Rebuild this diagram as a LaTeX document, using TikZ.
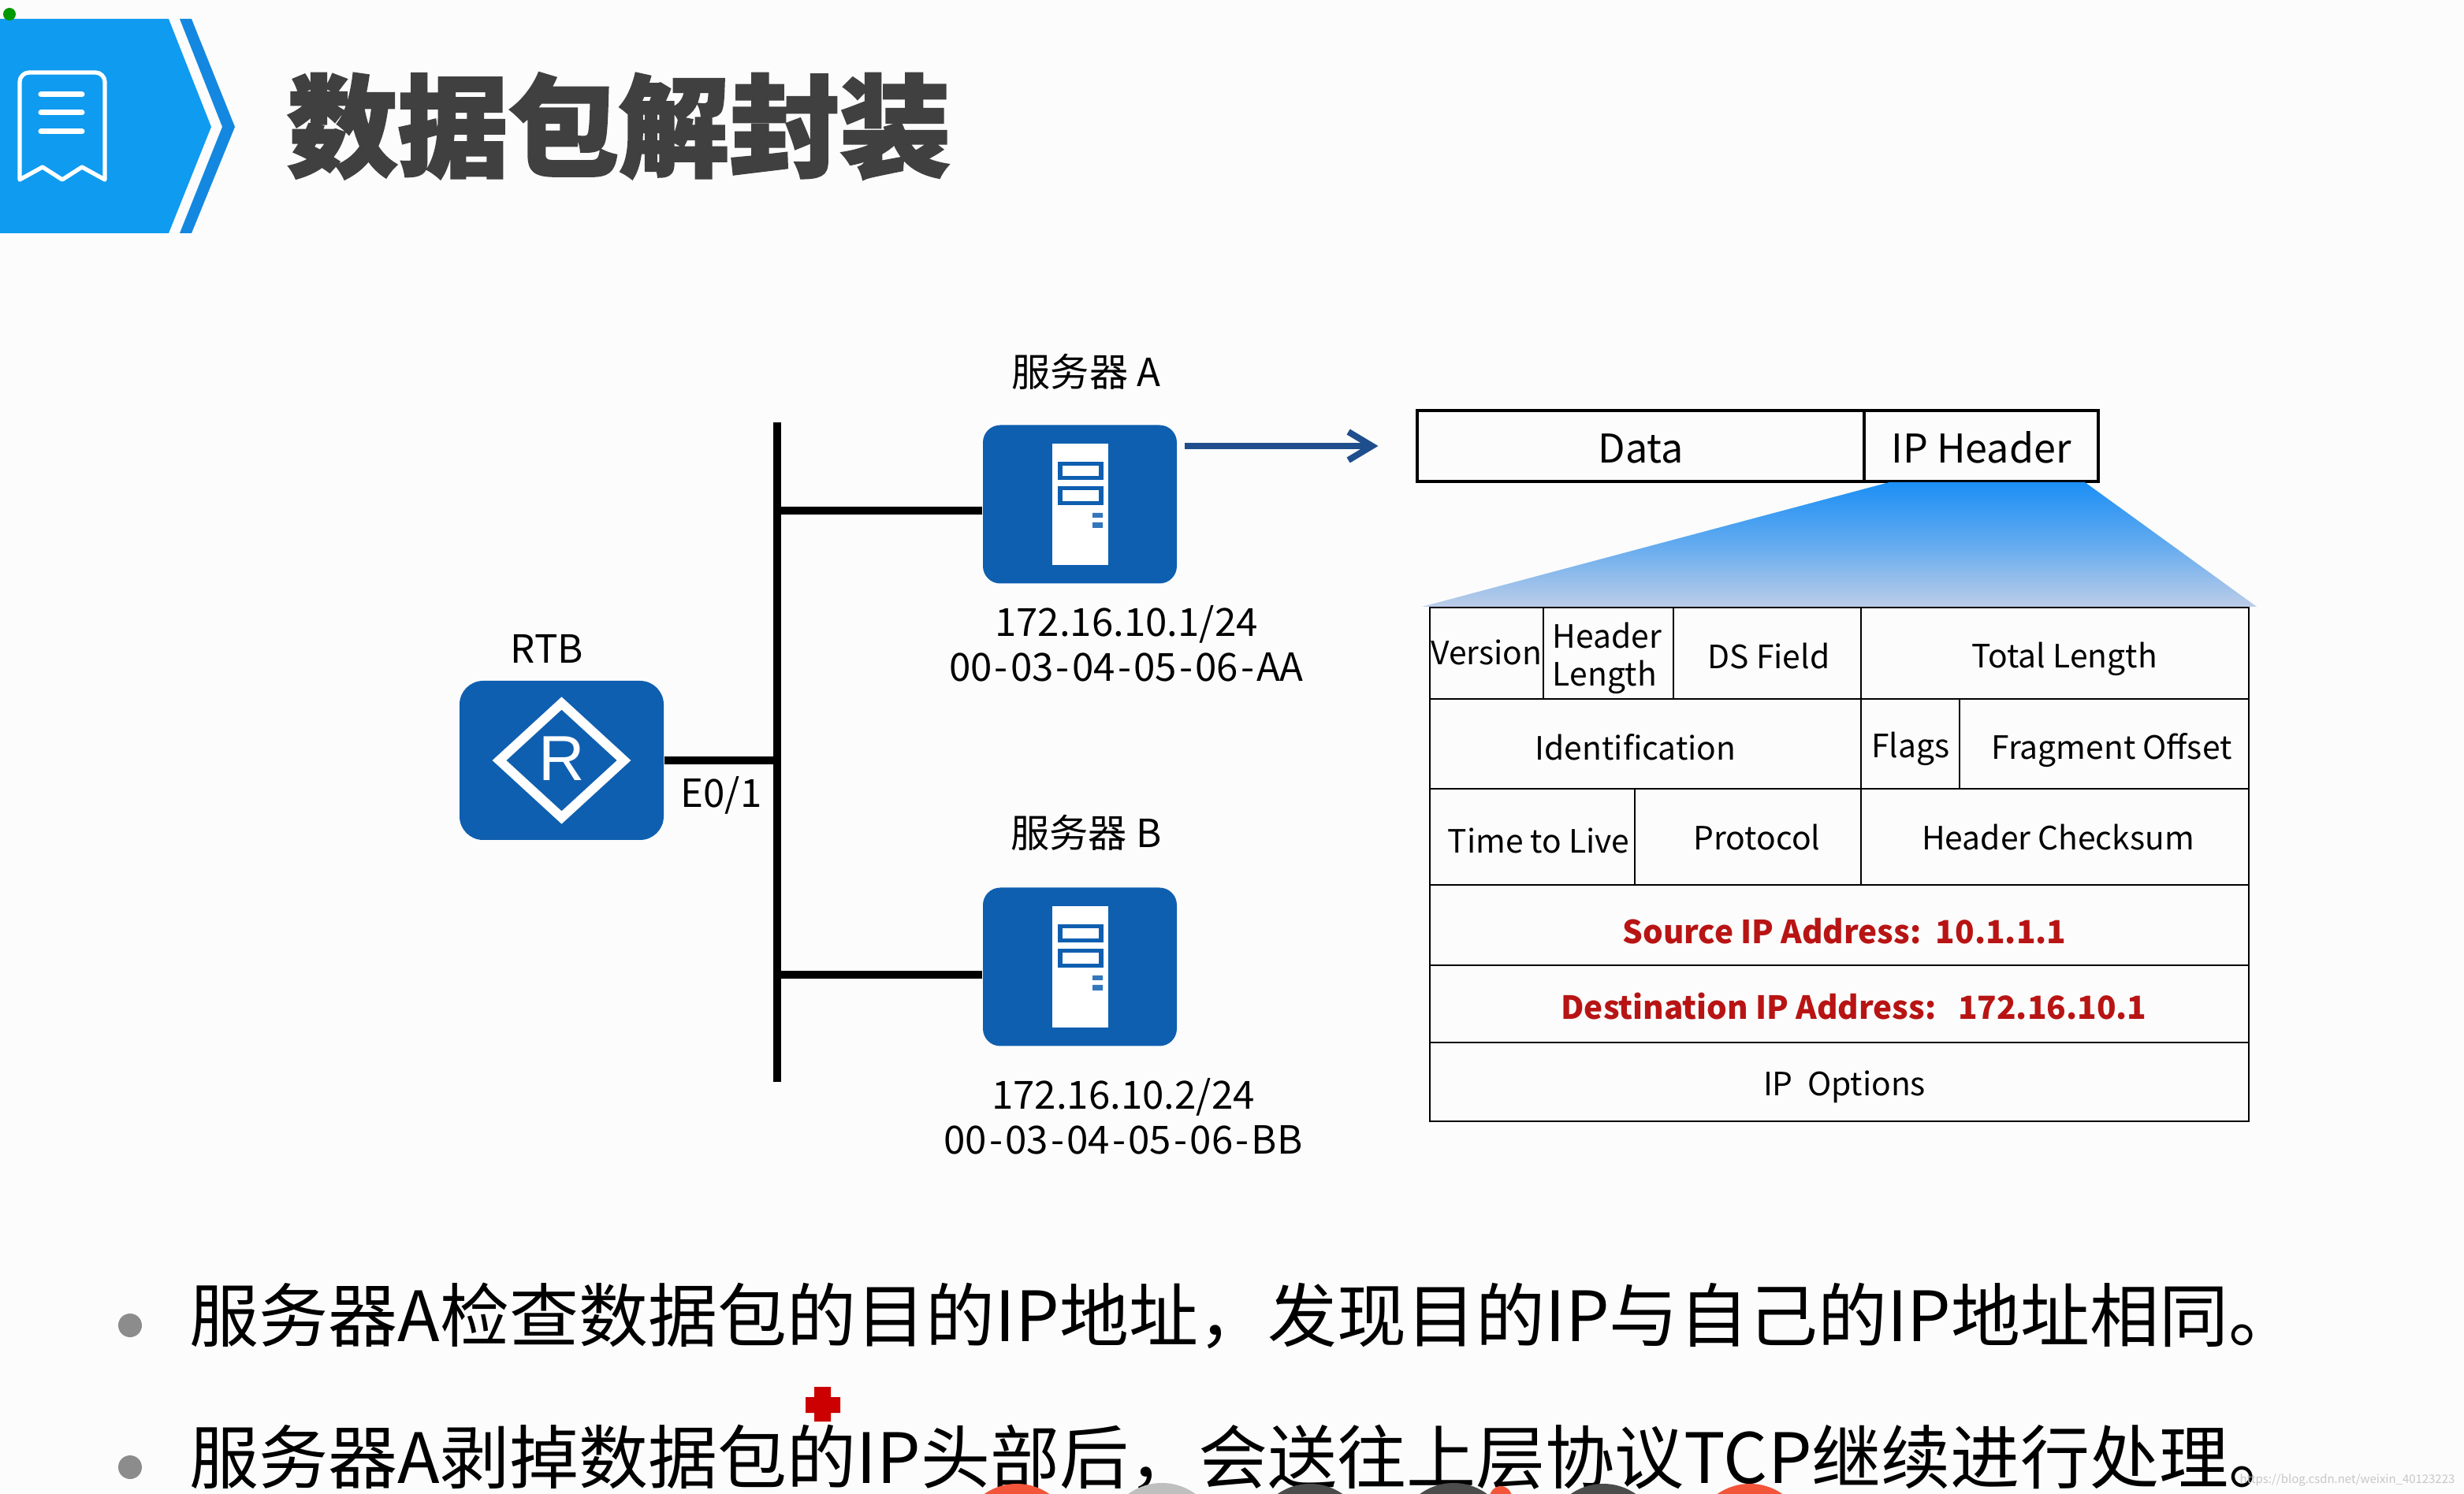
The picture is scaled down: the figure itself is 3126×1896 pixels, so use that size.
\documentclass[tikz,border=0pt]{standalone}
\usepackage{fontspec}
\setmainfont{Noto Sans CJK SC}
\newfontfamily\titlefont[BoldFeatures={FakeBold=2}]{Noto Sans CJK SC}
\newfontfamily\rfont{Liberation Sans}
\usepackage{xcolor}
\usetikzlibrary{%
  arrows.meta,
  positioning,
  calc
}
\definecolor{bannerblue}{HTML}{0F9BF0}
\definecolor{stripblue}{HTML}{1488E0}
\definecolor{devblue}{HTML}{0F5FB0}
\definecolor{arrowblue}{HTML}{1F4E8C}
\definecolor{wedgetop}{HTML}{1B8FF5}
\definecolor{wedgebot}{HTML}{BCCDE8}
\definecolor{addrred}{HTML}{B81414}
\definecolor{titlegray}{HTML}{404040}
\definecolor{avatarred}{HTML}{F2553A}
\newcommand{\hy}{\kern0.9pt-\kern0.9pt}
\tikzset{
  wire/.style={line width=2.8pt},
  devbox/.style={fill=devblue,inner sep=0pt,rounded corners=2.2mm},
  lab/.style={inner sep=0pt,font=\fontsize{14}{16.2}\selectfont,align=center},
  cell/.style={inner sep=0pt,font=\fontsize{11.6}{13.6}\selectfont,align=left},
  pkt/.style={draw,line width=1.4pt,inner sep=0pt,minimum height=9cm/10,text height=12.5pt,text depth=0pt,font=\fontsize{14.3}{17}\selectfont},
  redcell/.style={inner sep=0pt,text=addrred,font=\fontsize{11.5}{14}\selectfont\bfseries},
  bullet/.style={inner sep=0pt,anchor=west,font=\fontsize{25.05}{30}\selectfont}
}
\begin{document}
\begin{tikzpicture}[x=0.1mm,y=-0.1mm]
  \useasboundingbox (0,0) rectangle (3126,1896);
  \clip (0,0) rectangle (3126,1896);
  \fill[white!99!black] (0,0) rectangle (3126,1896);

  \fill[fill=bannerblue] (0,24) -- (214,24) -- (268,161) -- (214,296) -- (0,296) -- cycle;
  \fill[fill=stripblue] (228,24) -- (243,24) -- (298,161) -- (243,296) -- (228,296) -- (282,161) -- cycle;
  \fill[fill=green!60!black] (12,18) circle (8);
  \draw[white,line width=1.5pt,line join=round]
    (25,228) [rounded corners=1.2mm] -- (25,92) -- (133,92) [sharp corners] -- (133,228)
    -- (104,212) -- (79,228) -- (54,212) -- cycle;
  \foreach \y in {120,143,167} {
    \draw[white,line width=2pt,line cap=round] (52,\y) -- (104,\y);
  }
  \node (title) at (785,160) {\titlefont\bfseries\fontsize{39.9}{40}\selectfont\textcolor{titlegray}{数据包解封装}};

  \coordinate (busT) at (986,536);
  \coordinate (busB) at (986,1373);
  \draw[wire,line width=2.6pt] (busT) -- (busB);

  \node (rtb) [devbox,rounded corners=3mm,minimum width=25.9mm,minimum height=20.2mm] at (712.5,965) {};
  \draw[white,line width=3.4pt] (rtb.center) ++(-79,0) -- ++(79,-72.5) -- ++(79,72.5) -- ++(-79,72.5) -- cycle;
  \node (rletter) [inner sep=0pt,text=white,font=\rfont\fontsize{23}{23}\selectfont] at (713,963) {R};
  \node (rtblab) [lab] at (694,823) {RTB};
  \node (portlab) [lab] at (915,1009) {E0/1};
  \draw[wire] (rtb.east) -- (rtb.east -| busT);

  \foreach \n/\oy/\ly in {A/0/648,B/587/1237} {
    \node (srv\n) [devbox,minimum width=24.6mm,minimum height=20.1mm] at (1370,640+\oy) {};
    \draw[wire] (srv\n.west |- 0,\ly) -- (986,\ly);
    \fill[white] (1335,563+\oy) rectangle (1406,717+\oy);
    \foreach \t/\b in {588.5/606.5,619.5/638.5} {
      \draw[devblue,line width=1.6pt] (1345,\t+\oy) rectangle (1397,\b+\oy);
    }
    \fill[devblue!85!white] (1386,651+\oy) rectangle (1399,657+\oy) (1386,663+\oy) rectangle (1399,670+\oy);
  }

  \node (nameA) [lab] at (1378,472) {服务器 A};
  \node (nameB) [lab] at (1378,1057) {服务器 B};
  \node (addrA) [lab] at (1429,817) {172.16.10.1/24\\00\hy 03\hy 04\hy 05\hy 06\hy AA};
  \node (addrB) [lab] at (1425,1417) {172.16.10.2/24\\00\hy 03\hy 04\hy 05\hy 06\hy BB};

  \node (data) [pkt,minimum width=56.7mm] at (2081.5,566) {Data};
  \node (iphead) [pkt,minimum width=29.7mm] at (2513.5,566) {IP Header};
  \coordinate (arrS) at (1503,566);
  \draw[line width=2.3pt,arrowblue,-{Straight Barb[length=3mm,width=3.6mm]},shorten >=13.4pt] (arrS) -- (data.west);

  \shade[top color=wedgetop,bottom color=wedgebot,middle color=wedgetop!55!wedgebot]
    (2397,612) -- (2645,612) -- (2863,770) -- (1804,770) -- cycle;

  \def\L{1814}
  \def\R{2853}
  \draw[line width=0.8pt] (\L,771) rectangle (\R,1423);
  \foreach \y in {887,1001,1123,1225,1323} {
    \draw[line width=0.8pt] (\L,\y) -- (\R,\y);
  }
  \foreach \x/\t/\b in {1958/771/887,2123/771/887,2361/771/1123,2486/887/1001,2074/1001/1123} {
    \draw[line width=0.6pt] (\x,\t) -- (\x,\b);
  }

  \foreach \a/\b/\txt[count=\i] in {%
    1886/828/Version,2039/835/{Header\\Length},2244/833/DS Field,2619/836/Total Length,
    2075/948/Identification,2424/950/Flags,2679/952/Fragment Offset,
    1952/1067/Time to Live,2229/1063/Protocol,2611/1063/Header Checksum,
    2340/1379/IP\ \ Options} {
    \node (cell\i) [cell] at (\a,\b) {\txt};
  }
  \node (srcip) [redcell] at (2340,1182) {Source IP Address:\ \ 10.1.1.1};
  \node (dstip) [redcell] at (2352,1277) {Destination IP Address:\ \ \ 172.16.10.1};

  \fill[gray!90] (165,1682) circle (15) (165,1862) circle (15);
  \node (line1) [bullet] at (240,1670) {服务器A检查数据包的目的IP地址，发现目的IP与自己的IP地址相同。};
  \node (line2) [bullet] at (240,1850) {服务器A剥掉数据包的IP头部后，会送往上层协议TCP继续进行处理。};

  \fill[red!80!black] (1033,1760) rectangle (1054,1804) (1022,1773) rectangle (1066,1793);

  \foreach \x/\y/\c in {1290/1955/avatarred,1474/1954/gray!50,1662/1955/black!70,1844/1954/black!70,2034/1955/black!70,2220/1955/avatarred} {
    \fill[fill=\c] (\x,\y) circle (72);
  }
  \fill[fill=avatarred] (1904,1900) circle (14);

  \node (mark) [inner sep=0pt,anchor=east,text=black!22,font=\fontsize{4.25}{6}\selectfont] at (3115,1878) {https://blog.csdn.net/weixin\_40123223};
\end{tikzpicture}
\end{document}
